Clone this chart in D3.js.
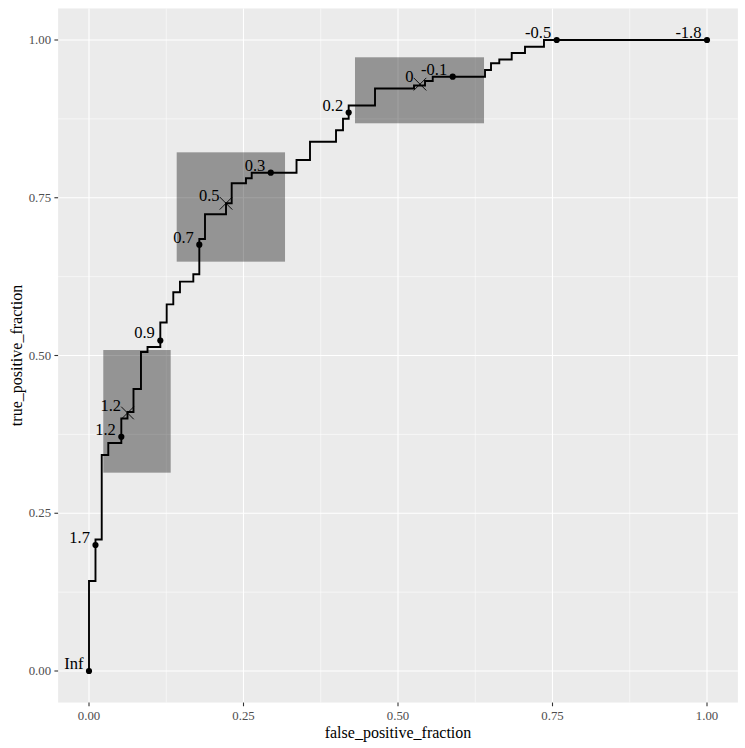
<!DOCTYPE html>
<html>
<head>
<meta charset="utf-8">
<script src="https://cdn.jsdelivr.net/npm/d3@7"></script>
<style>
  html, body { margin: 0; padding: 0; background: #ffffff; }
  svg { display: block; }
</style>
</head>
<body>
<svg id="chart" width="745" height="748"></svg>
<script>
// ROC staircase: each point ends a horizontal run (path goes vertical, then horizontal)
const stepFpf = [0, 0.0105, 0.0206, 0.0312, 0.0523, 0.0623, 0.0720, 0.0841, 0.0947, 0.1154, 0.1257,
  0.1364, 0.1472, 0.1688, 0.1785, 0.1877, 0.2217, 0.2309, 0.2540, 0.2633, 0.3358,
  0.3576, 0.3997, 0.4110, 0.4202, 0.4628, 0.5259, 0.5437, 0.5562, 0.6408, 0.6505,
  0.6639, 0.6840, 0.7055, 0.7362, 1.0];
const stepTpf = [0, 0.1426, 0.2084, 0.3423, 0.3613, 0.4002, 0.4105, 0.4469, 0.5055, 0.5135, 0.5523,
  0.5811, 0.6002, 0.6170, 0.6287, 0.6846, 0.7238, 0.7412, 0.7729, 0.7808, 0.7897,
  0.8098, 0.8388, 0.8569, 0.8753, 0.8962, 0.9231, 0.9279, 0.9350, 0.9418, 0.9525,
  0.9631, 0.9691, 0.9794, 0.9894, 1.0];

// Labelled cutoffs (dots)
const cutFpf = [0, 0.0105, 0.0523, 0.1154, 0.1785, 0.2941, 0.4202, 0.5885, 0.7568, 1.0];
const cutTpf = [0, 0.1997, 0.3712, 0.5238, 0.6756, 0.7897, 0.8851, 0.9418, 1.0, 1.0];
const cutLabels = ["Inf", "1.7", "1.2", "0.9", "0.7", "0.3", "0.2", "-0.1", "-0.5", "-1.8"];

// Confidence regions (X markers and boxes)
const ciFpf = [0.0623, 0.2217, 0.5356];
const ciTpf = [0.4089, 0.7412, 0.9300];
const ciLabels = ["1.2", "0.5", "0"];
const ciFpfLow = [0.0231, 0.1419, 0.4304];
const ciFpfHigh = [0.1322, 0.3172, 0.6392];
const ciTpfLow = [0.3143, 0.6487, 0.8680];
const ciTpfHigh = [0.5087, 0.8220, 0.9726];

const xTicks = [0, 0.25, 0.5, 0.75, 1.0];
const yTicks = [0, 0.25, 0.5, 0.75, 1.0];
const xTickLabels = ["0.00", "0.25", "0.50", "0.75", "1.00"];
const yTickLabels = ["0.00", "0.25", "0.50", "0.75", "1.00"];
const minorBreaks = [0.125, 0.375, 0.625, 0.875];
const xTitle = "false_positive_fraction";
const yTitle = "true_positive_fraction";

const svg = d3.select("#chart");
const serif = "'Liberation Serif', 'DejaVu Serif', serif";

const x = d3.scaleLinear().domain([0, 1]).range([89, 707]);
const y = d3.scaleLinear().domain([0, 1]).range([671, 40]);

const px0 = x(-0.05), px1 = x(1.05), py0 = y(1.05), py1 = y(-0.05);

// panel
svg.append("rect").attr("x", px0).attr("y", py0)
  .attr("width", px1 - px0).attr("height", py1 - py0).attr("fill", "#EBEBEB");

const grid = svg.append("g");
minorBreaks.forEach(v => {
  grid.append("line").attr("x1", x(v)).attr("x2", x(v)).attr("y1", py0).attr("y2", py1)
    .attr("stroke", "#fff").attr("stroke-width", 0.55);
  grid.append("line").attr("y1", y(v)).attr("y2", y(v)).attr("x1", px0).attr("x2", px1)
    .attr("stroke", "#fff").attr("stroke-width", 0.55);
});
xTicks.forEach(v => {
  grid.append("line").attr("x1", x(v)).attr("x2", x(v)).attr("y1", py0).attr("y2", py1)
    .attr("stroke", "#fff").attr("stroke-width", 1.1);
});
yTicks.forEach(v => {
  grid.append("line").attr("y1", y(v)).attr("y2", y(v)).attr("x1", px0).attr("x2", px1)
    .attr("stroke", "#fff").attr("stroke-width", 1.1);
});

// confidence boxes
svg.append("g").selectAll("rect").data(ciFpf.map((_, i) => i)).join("rect")
  .attr("x", i => x(ciFpfLow[i]))
  .attr("y", i => y(ciTpfHigh[i]))
  .attr("width", i => x(ciFpfHigh[i]) - x(ciFpfLow[i]))
  .attr("height", i => y(ciTpfLow[i]) - y(ciTpfHigh[i]))
  .attr("fill", "#000").attr("fill-opacity", 0.37);

// ROC line
const line = d3.line().x(d => x(d[0])).y(d => y(d[1])).curve(d3.curveStepBefore);
svg.append("path").datum(stepFpf.map((v, i) => [v, stepTpf[i]]))
  .attr("d", line).attr("fill", "none").attr("stroke", "#000").attr("stroke-width", 1.9)
  .attr("stroke-linejoin", "miter");

// cutoff points
svg.append("g").selectAll("circle").data(cutFpf.map((_, i) => i)).join("circle")
  .attr("cx", i => x(cutFpf[i])).attr("cy", i => y(cutTpf[i])).attr("r", 3.1).attr("fill", "#000");
svg.append("g").selectAll("text").data(cutFpf.map((_, i) => i)).join("text")
  .attr("x", i => x(cutFpf[i]) - 5.5).attr("y", i => y(cutTpf[i]) - 2)
  .attr("text-anchor", "end").attr("font-family", serif).attr("font-size", 16.5)
  .attr("fill", "#000").text(i => cutLabels[i]);

// CI markers (X)
const xs = 6.3;
const cig = svg.append("g");
ciFpf.forEach((v, i) => {
  const cx = x(v), cy = y(ciTpf[i]);
  cig.append("line").attr("x1", cx - xs).attr("y1", cy - xs).attr("x2", cx + xs).attr("y2", cy + xs)
    .attr("stroke", "#000").attr("stroke-width", 0.9);
  cig.append("line").attr("x1", cx - xs).attr("y1", cy + xs).attr("x2", cx + xs).attr("y2", cy - xs)
    .attr("stroke", "#000").attr("stroke-width", 0.9);
  cig.append("text").attr("x", cx - 6.5).attr("y", cy - 2)
    .attr("text-anchor", "end").attr("font-family", serif).attr("font-size", 16.5)
    .attr("fill", "#000").text(ciLabels[i]);
});

// axes
const ax = svg.append("g");
xTicks.forEach((v, i) => {
  ax.append("line").attr("x1", x(v)).attr("x2", x(v)).attr("y1", py1).attr("y2", py1 + 3.7)
    .attr("stroke", "#333").attr("stroke-width", 1.1);
  ax.append("text").attr("x", x(v)).attr("y", py1 + 17).attr("text-anchor", "middle")
    .attr("font-family", serif).attr("font-size", 12.8).attr("fill", "#4D4D4D").text(xTickLabels[i]);
});
yTicks.forEach((v, i) => {
  ax.append("line").attr("x1", px0 - 3.7).attr("x2", px0).attr("y1", y(v)).attr("y2", y(v))
    .attr("stroke", "#333").attr("stroke-width", 1.1);
  ax.append("text").attr("x", px0 - 7).attr("y", y(v) + 4.2).attr("text-anchor", "end")
    .attr("font-family", serif).attr("font-size", 12.8).attr("fill", "#4D4D4D").text(yTickLabels[i]);
});
svg.append("text").attr("x", (px0 + px1) / 2).attr("y", 738).attr("text-anchor", "middle")
  .attr("font-family", serif).attr("font-size", 16).attr("fill", "#000").text(xTitle);
svg.append("text").attr("transform", `translate(22, ${(py0 + py1) / 2}) rotate(-90)`)
  .attr("text-anchor", "middle")
  .attr("font-family", serif).attr("font-size", 16).attr("fill", "#000").text(yTitle);
</script>
</body>
</html>
